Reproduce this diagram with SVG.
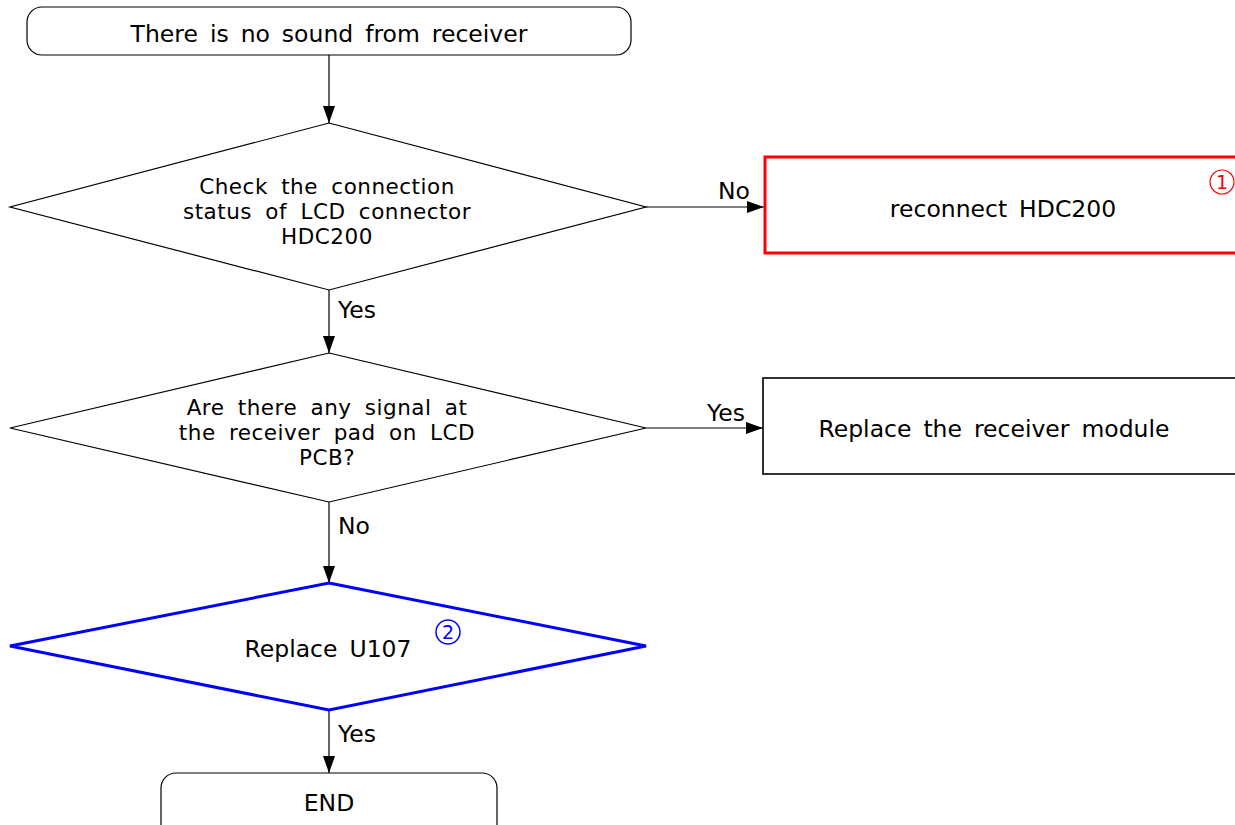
<svg xmlns="http://www.w3.org/2000/svg" width="1235" height="825" viewBox="0 0 1235 825">
<style>
text{font-family:"DejaVu Sans","Liberation Sans",sans-serif;font-size:23.5px;fill:#000;word-spacing:4.5px}
.c{text-anchor:middle}
.m{font-size:21.5px;letter-spacing:0.5px;word-spacing:6px}
.thin{fill:#fff;stroke:#000;stroke-width:1.2}
.line{stroke:#000;stroke-width:1.2;fill:none}
</style>
<defs>
<marker id="ah" markerWidth="17" markerHeight="12" refX="17" refY="6" orient="auto" markerUnits="userSpaceOnUse">
<path d="M0,0 L17,6 L0,12 Z" fill="#000"/>
</marker>
</defs>
<rect width="1235" height="825" fill="#fff"/>
<g id="connectors">
<line class="line" x1="329" y1="55" x2="329" y2="123" marker-end="url(#ah)"/>
<line class="line" x1="646" y1="207" x2="764" y2="207" marker-end="url(#ah)"/>
<text x="718" y="199">No</text>
<line class="line" x1="329" y1="290" x2="329" y2="353" marker-end="url(#ah)"/>
<text x="338" y="318">Yes</text>
<line class="line" x1="646" y1="428" x2="763" y2="428" marker-end="url(#ah)"/>
<text x="707" y="421">Yes</text>
<line class="line" x1="329" y1="502" x2="329" y2="583" marker-end="url(#ah)"/>
<text x="338" y="534">No</text>
<line class="line" x1="329" y1="710" x2="329" y2="773" marker-end="url(#ah)"/>
<text x="338" y="742">Yes</text>
</g>
<g id="start">
<rect class="thin" x="27" y="7" width="604" height="48" rx="15"/>
<text class="c" x="329" y="42">There is no sound from receiver</text>
</g>
<g id="check-connection">
<polygon class="thin" points="329,123 646,207 329,290 10,207"/>
<text class="c m" x="327" y="194">Check the connection</text>
<text class="c m" x="327" y="219">status of LCD connector</text>
<text class="c m" x="327" y="244">HDC200</text>
</g>
<g id="reconnect">
<rect x="765" y="157" width="480" height="96" fill="#fff" stroke="#f00" stroke-width="3"/>
<text class="c" x="1003" y="217">reconnect HDC200</text>
<circle cx="1222" cy="182" r="12" fill="none" stroke="#f00" stroke-width="1.2"/>
<text class="c" x="1222" y="189" style="fill:#f00;font-size:19px">1</text>
</g>
<g id="signal-check">
<polygon class="thin" points="329,353 646,428 329,502 10,428"/>
<text class="c m" x="327" y="415">Are there any signal at</text>
<text class="c m" x="327" y="440">the receiver pad on LCD</text>
<text class="c m" x="327" y="465">PCB?</text>
</g>
<g id="replace-module">
<rect x="763" y="378" width="480" height="96" fill="#fff" stroke="#000" stroke-width="1.6"/>
<text class="c" x="994" y="437">Replace the receiver module</text>
</g>
<g id="replace-u107">
<polygon points="329,583 646,646 329,710 10,646" fill="#fff" stroke="#00f" stroke-width="3"/>
<text class="c" x="328" y="657">Replace U107</text>
<circle cx="448" cy="632" r="12" fill="none" stroke="#00f" stroke-width="1.5"/>
<text class="c" x="448" y="639" style="fill:#00f;font-size:19px">2</text>
</g>
<g id="end">
<rect class="thin" x="161" y="773" width="336" height="70" rx="15"/>
<text class="c" x="329" y="811">END</text>
</g>
</svg>
